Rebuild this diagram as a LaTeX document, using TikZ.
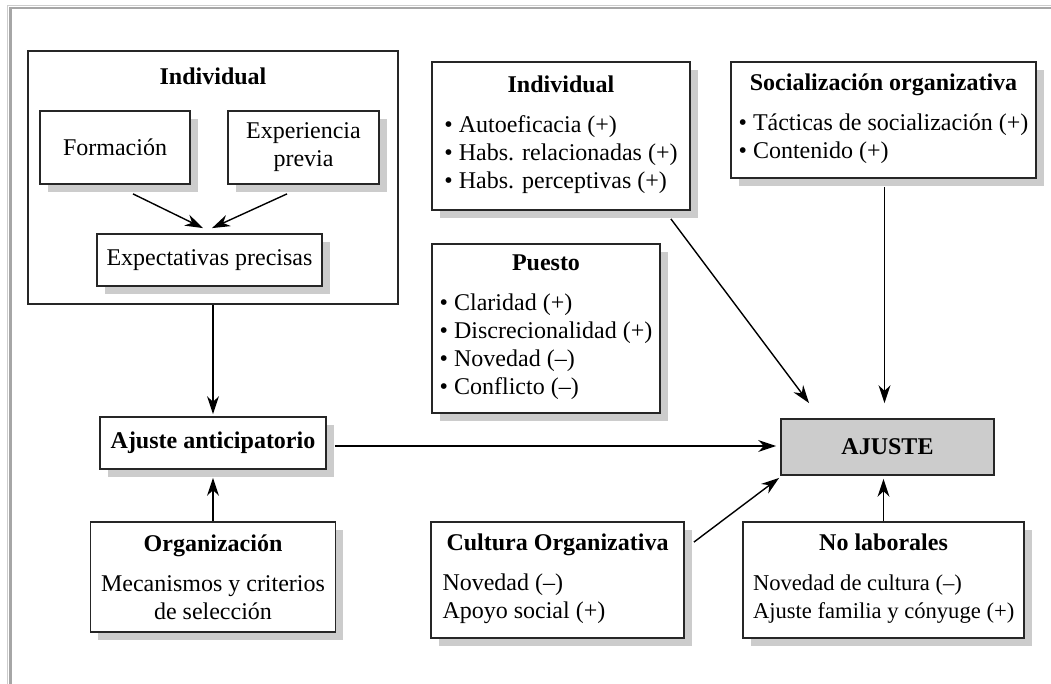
\documentclass[tikz,border=0pt]{standalone}
\usepackage{fontspec}
\setmainfont{Liberation Serif}
\usetikzlibrary{arrows.meta,shadows}

\begin{document}
\begin{tikzpicture}[x=0.5pt, y=-0.5pt,
    every node/.style={font=\fontsize{12}{14}\selectfont},
    box_style/.style={draw=black!85, line width=0.9pt, fill=white, inner sep=0pt, align=center},
    shadow_style/.style={box_style, general shadow={fill=black!20, shadow xshift=3.75pt, shadow yshift=-4pt}},
    main_style/.style={box_style, fill=black!20},
    title_style/.style={font=\fontsize{12}{14}\selectfont\bfseries, anchor=base},
    edge_style/.style={draw=black, line width=0.7pt},
    frame_style/.style={line width=1.25pt, draw=black!35}]
      \useasboundingbox (0,0) rectangle (1051,684);
      % frame of the page
      \draw[draw=black!20, line width=0.5pt] (7.5,684) -- (7.5,5.5) -- (1051,5.5);
      \draw[frame_style] (10.5,684) -- (10.5,8) -- (1051,8);
      \draw
        (213,177.5) node[box_style, minimum width=185pt, minimum height=126.5pt] (indbox){}
        (213,85) node[title_style] (indtitle){Individual}
        (115,147.5) node[shadow_style, minimum width=75pt, minimum height=36.5pt] (form){Formación}
        (303.5,147.5) node[shadow_style, minimum width=75.5pt, minimum height=36.5pt] (exper){Experiencia\\previa}
        (209.5,260) node[shadow_style, minimum width=112.5pt, minimum height=26pt] (expect){Expectativas precisas}
        (213,443) node[shadow_style, minimum width=113pt, minimum height=26pt] (antic){\textbf{Ajuste anticipatorio}}
        (213,577) node[shadow_style, minimum width=122.5pt, minimum height=55pt] (orga){\textbf{Organización}\\[6pt]Mecanismos y criterios\\de selección}
        (561,136) node[shadow_style, minimum width=129pt, minimum height=74pt] (indiv){\textbf{Individual}\\[6pt]\begin{tabular}[t]{@{}l@{}}\textbullet\ Autoeficacia (+)\\\textbullet\ Habs. relacionadas (+)\\\textbullet\ Habs. perceptivas (+)\end{tabular}}
        (546,328.5) node[shadow_style, minimum width=114pt, minimum height=84.5pt] (puesto){\textbf{Puesto}\\[6pt]\begin{tabular}[t]{@{}l@{}}\textbullet\ Claridad (+)\\\textbullet\ Discrecionalidad (+)\\\textbullet\ Novedad (–)\\\textbullet\ Conflicto (–)\end{tabular}}
        (883.5,120) node[shadow_style, minimum width=152.5pt, minimum height=58pt] (social){\textbf{Socialización organizativa}\\[6pt]\begin{tabular}[t]{@{}l@{}}\textbullet\ Tácticas de socialización (+)\\\textbullet\ Contenido (+)\end{tabular}}
        (887.5,447) node[main_style, minimum width=106.5pt, minimum height=28pt] (ajuste){\textbf{AJUSTE}}
        (557.5,580) node[shadow_style, minimum width=126.5pt, minimum height=58pt] (cultura){\textbf{Cultura Organizativa}\\[6pt]\makebox[115pt][l]{\begin{tabular}[t]{@{}l@{}}Novedad (–)\\Apoyo social (+)\end{tabular}}}
        (883.5,580) node[shadow_style, minimum width=140.5pt, minimum height=58pt] (nolab){\textbf{No laborales}\\[6pt]\makebox[130.5pt][l]{\fontsize{11.3}{14}\selectfont\begin{tabular}[t]{@{}l@{}}Novedad de cultura (–)\\Ajuste familia y cónyuge (+)\end{tabular}}};
      \begin{scope}[>={Stealth[length=9pt,width=6pt]}, ->]
        \draw[edge_style] ([xshift=9pt,yshift=-4.5pt]form.south) to ([xshift=-3.25pt,yshift=2.5pt]expect.north);
        \draw[edge_style] ([xshift=-8.25pt,yshift=-4.5pt]exper.south) to ([xshift=1.25pt,yshift=2.5pt]expect.north);
        \draw[edge_style, shorten >=1pt] (indbox.south) to (antic.north);
        \draw[edge_style, shorten >=4pt] (orga.north) to (antic.south);
        \draw[edge_style, shorten <=4pt, shorten >=2pt] ([yshift=-1.5pt]antic.east) to ([yshift=0.5pt]ajuste.west);
        \draw[edge_style] ([xshift=-10pt,yshift=-4pt]indiv.south east) to ([xshift=14.5pt,yshift=7.5pt]ajuste.north west);
        \draw[edge_style, shorten <=4pt, shorten >=7.5pt] ([xshift=0.5pt]social.south) to ([xshift=-1.5pt]ajuste.north);
        \draw[edge_style] ([xshift=4.5pt,yshift=-10.5pt]cultura.north east) to ([xshift=-0.5pt,yshift=-1pt]ajuste.south west);
        \draw[edge_style, shorten >=1.5pt] (nolab.north) to ([xshift=-2pt]ajuste.south);
      \end{scope}
    \end{tikzpicture}
\end{document}
